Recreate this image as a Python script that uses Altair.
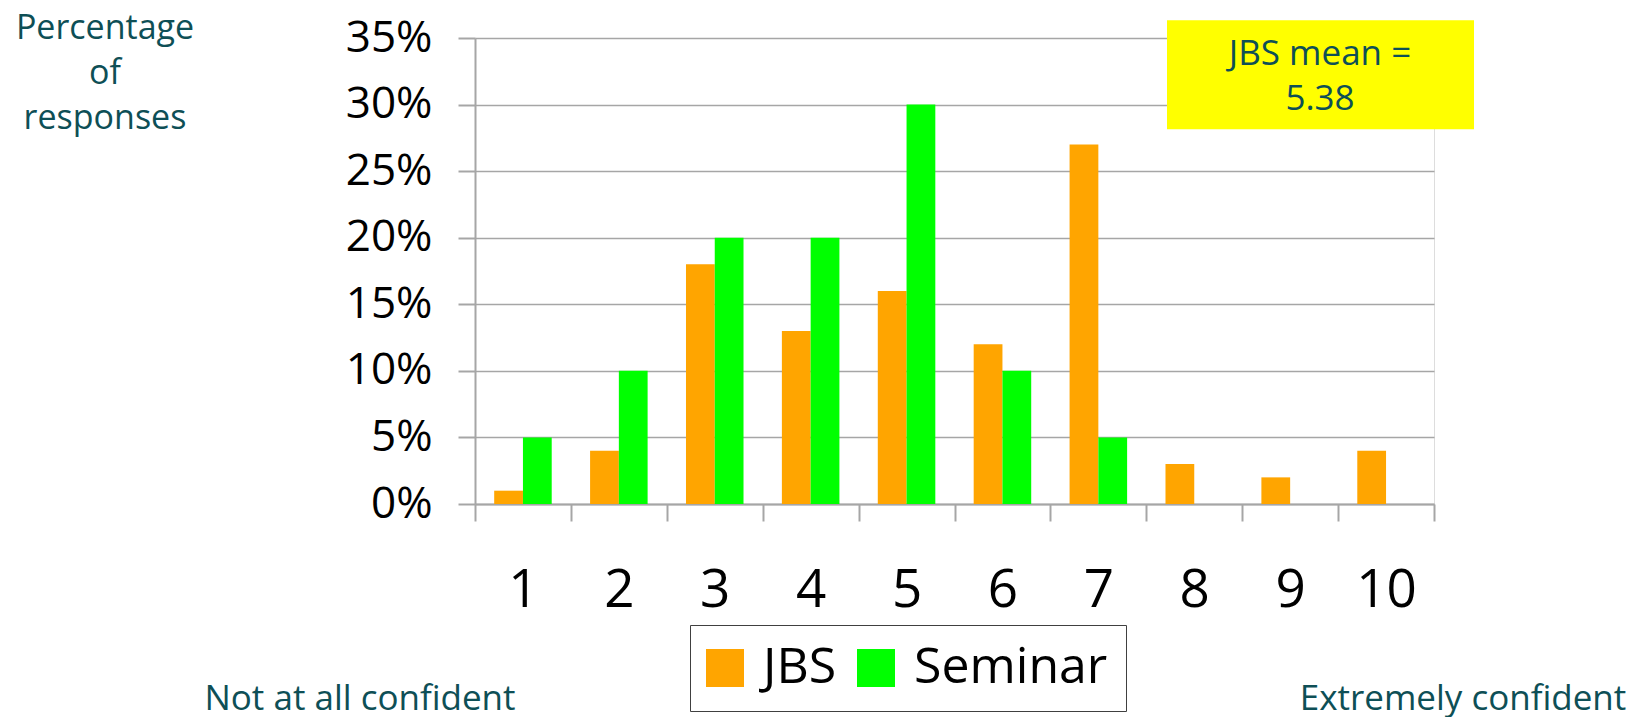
import altair as alt
import pandas as pd

categories = [str(i) for i in range(1, 11)]
jbs = [1, 4, 18, 13, 16, 12, 27, 3, 2, 4]
seminar = [5, 10, 20, 20, 30, 10, 5, 0, 0, 0]
series = ["JBS", "Seminar"]
colors = ["#FFA500", "#00FF00"]
y_ticks = [0, 0.05, 0.10, 0.15, 0.20, 0.25, 0.30, 0.35]

ylabel_lines = ["Percentage", "of", "responses"]
mean_lines = ["JBS mean =", "5.38"]
left_note = "Not at all confident"
right_note = "Extremely confident"

rows = []
for c, j, s in zip(categories, jbs, seminar):
    rows.append({"score": c, "series": "JBS", "pct": j / 100})
    rows.append({"score": c, "series": "Seminar", "pct": s / 100})
df = pd.DataFrame(rows)

W, H = 959, 466
TEAL = "#0E4F56"
FONT = "Open Sans"
GRAY = "#a6a6a6"

bars = alt.Chart(df).mark_bar().encode(
    x=alt.X(
        "score:N",
        sort=categories,
        scale=alt.Scale(paddingInner=0, paddingOuter=0),
        axis=alt.Axis(
            title=None, labelAngle=0, labelFontSize=53, labelFont=FONT,
            labelColor="#000000", tickSize=17, tickBand="extent",
            labelPadding=43, tickColor=GRAY, tickWidth=2,
            domainColor=GRAY, domainWidth=2, grid=False,
        ),
    ),
    xOffset=alt.XOffset(
        "series:N", sort=series,
        scale=alt.Scale(paddingInner=0, paddingOuter=0.667),
    ),
    y=alt.Y(
        "pct:Q",
        scale=alt.Scale(domain=[0, 0.35], nice=False),
        axis=alt.Axis(
            title=None, values=y_ticks, format=".0%", labelFontSize=44,
            labelFont=FONT, labelColor="#000000", tickSize=17,
            labelPadding=26, tickColor=GRAY, tickWidth=2,
            domainColor=GRAY, domainWidth=2, gridColor=GRAY, gridWidth=1.5,
        ),
    ),
    color=alt.Color(
        "series:N",
        scale=alt.Scale(domain=series, range=colors),
        legend=alt.Legend(
            title=None, orient="none", legendX=215, legendY=587,
            direction="horizontal", symbolType="square", symbolSize=1444,
            symbolStrokeWidth=0, symbolOpacity=1, labelFontSize=50,
            labelFont=FONT, labelColor="#000000", labelLimit=400,
            labelOffset=13, columnPadding=20, padding=18, symbolOffset=-8,
            strokeColor="#404040", fillColor="#ffffff",
        ),
    ),
)

one = pd.DataFrame({"a": [0]})

box = alt.Chart(one).mark_rect(color="#FFFF00").encode(
    x=alt.value(692), x2=alt.value(999), y=alt.value(-17.7), y2=alt.value(91.3)
)

box_text = alt.Chart(one).mark_text(
    text=mean_lines, font=FONT, fontSize=35, color=TEAL, align="center",
    baseline="alphabetic", lineHeight=45,
).encode(x=alt.value(845), y=alt.value(27.3))

ylab = alt.Chart(one).mark_text(
    text=ylabel_lines, font=FONT, fontSize=34, color=TEAL, align="center",
    baseline="alphabetic", lineHeight=45,
).encode(x=alt.value(-370), y=alt.value(1))

left_t = alt.Chart(one).mark_text(
    text=left_note, font=FONT, fontSize=35, color=TEAL, align="center",
    baseline="alphabetic",
).encode(x=alt.value(-115), y=alt.value(672))

right_t = alt.Chart(one).mark_text(
    text=right_note, font=FONT, fontSize=35, color=TEAL, align="center",
    baseline="alphabetic",
).encode(x=alt.value(988), y=alt.value(672))

chart = alt.layer(bars, box, box_text, ylab, left_t, right_t).properties(
    width=W, height=H,
    autosize=alt.AutoSizeParams(type="none"),
    padding={"left": 467, "top": 30, "right": 198, "bottom": 213},
).configure_view(strokeWidth=0).configure(background="#ffffff")

chart.save("out.html", embed_options={"renderer": "svg", "actions": False})
